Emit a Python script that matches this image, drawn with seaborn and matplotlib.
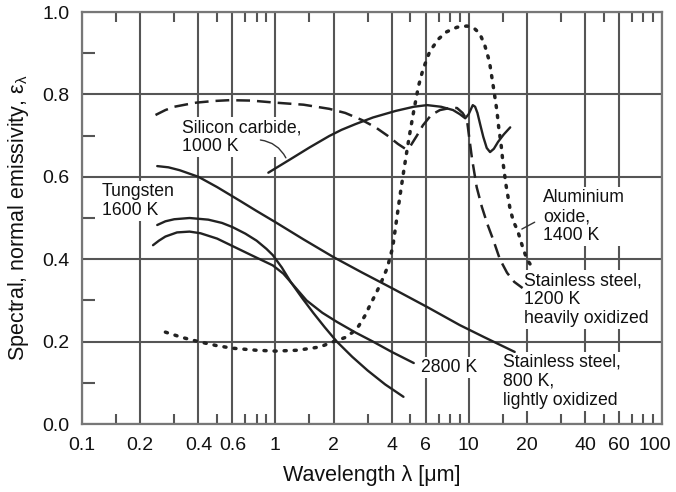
import matplotlib
matplotlib.use('Agg')
import matplotlib.pyplot as plt
import matplotlib.transforms as mtransforms
import seaborn as sns
import pandas as pd
from matplotlib.ticker import FixedLocator, FixedFormatter, NullFormatter

# data (wavelength in um, emissivity)
sic_x = [0.92, 1.2, 1.5, 1.9, 2.2, 2.6, 3.2, 4.2, 5.2, 6.1, 7.2, 8.3, 9.0, 9.6, 10.0, 10.5, 10.8, 11.1, 11.5,
         11.9, 12.4, 12.9, 13.5, 14.2, 15.2, 16.4]
sic_y = [0.61, 0.643, 0.671, 0.699, 0.714, 0.728, 0.744, 0.76, 0.77, 0.774, 0.77, 0.762, 0.752, 0.742, 0.752,
         0.774, 0.77, 0.755, 0.725, 0.697, 0.67, 0.66, 0.668, 0.685, 0.703, 0.72]

ss1200_x = [0.24, 0.27, 0.3, 0.35, 0.39, 0.48, 0.58, 0.75, 1.0, 1.4, 1.9, 2.3, 2.8, 3.3, 3.8, 4.3, 4.7, 5.0,
            5.4, 5.8, 6.4, 7.1, 8.0, 8.7, 9.3, 9.8, 10.1, 10.4, 11.0, 11.7, 12.5, 13.4, 14.5, 15.8, 17.2, 19.0]
ss1200_y = [0.75, 0.762, 0.77, 0.776, 0.78, 0.784, 0.786, 0.785, 0.78, 0.775, 0.765, 0.755, 0.738, 0.72, 0.70,
            0.68, 0.668, 0.675, 0.70, 0.725, 0.75, 0.762, 0.767, 0.767, 0.755, 0.738, 0.69, 0.645, 0.575, 0.527,
            0.485, 0.447, 0.40, 0.367, 0.345, 0.33]

alox_x = [0.27, 0.33, 0.4, 0.5, 0.6, 0.8, 1.0, 1.3, 1.7, 2.0, 2.3, 2.5, 2.7, 2.9, 3.1, 3.3, 3.5, 3.8, 4.05,
          4.25, 4.4, 4.6, 4.8, 5.0, 5.2, 5.5, 5.8, 6.3, 7.0, 7.7, 8.7, 9.8, 10.7, 11.4, 12.1, 12.8, 13.3,
          13.6, 14.0, 14.3, 14.7, 15.0, 15.6, 16.4, 17.1, 17.9, 19.0, 20.0, 21.0, 22.0]
alox_y = [0.223, 0.21, 0.20, 0.19, 0.184, 0.179, 0.177, 0.179, 0.187, 0.20, 0.21, 0.222, 0.238, 0.262, 0.29,
          0.315, 0.34, 0.38, 0.43, 0.50, 0.55, 0.61, 0.665, 0.715, 0.76, 0.82, 0.86, 0.905, 0.935, 0.952,
          0.963, 0.966, 0.96, 0.948, 0.92, 0.88, 0.83, 0.80, 0.76, 0.72, 0.68, 0.64, 0.58, 0.52, 0.49, 0.47,
          0.43, 0.40, 0.385, 0.38]

ss800_x = [0.245, 0.28, 0.32, 0.4, 0.5, 0.66, 0.8, 1.0, 1.4, 2.0, 2.8, 4.0, 6.1, 9.0, 12.0, 17.3]
ss800_y = [0.626, 0.623, 0.616, 0.60, 0.575, 0.541, 0.517, 0.49, 0.448, 0.405, 0.368, 0.33, 0.284, 0.24, 0.211, 0.175]

w1600_x = [0.245, 0.27, 0.3, 0.36, 0.45, 0.53, 0.6, 0.7, 0.8, 0.9, 0.97, 1.08, 1.2, 1.38, 1.57, 1.8, 2.08,
           2.5, 3.0, 3.7, 4.6]
w1600_y = [0.483, 0.492, 0.497, 0.50, 0.496, 0.488, 0.478, 0.462, 0.445, 0.425, 0.41, 0.38, 0.345, 0.305,
           0.27, 0.235, 0.20, 0.163, 0.13, 0.096, 0.066]

w2800_x = [0.233, 0.25, 0.27, 0.31, 0.36, 0.41, 0.5, 0.6, 0.75, 0.97, 1.1, 1.25, 1.45, 1.75, 2.08, 2.6, 3.2,
           4.0, 5.2]
w2800_y = [0.434, 0.445, 0.455, 0.465, 0.467, 0.463, 0.45, 0.432, 0.41, 0.385, 0.365, 0.335, 0.30, 0.27,
           0.248, 0.222, 0.20, 0.175, 0.148]

x_ticks = [0.1, 0.2, 0.4, 0.6, 1, 2, 4, 6, 10, 20, 40, 60, 100]
x_tick_labels = ['0.1', '0.2', '0.4', '0.6', '1', '2', '4', '6', '10', '20', '40', '60', '100']
x_minor = [0.15, 0.3, 0.5, 0.7, 0.8, 0.9, 1.5, 3, 5, 7, 8, 9, 15, 30, 50, 70, 80, 90]
y_ticks = [0.0, 0.2, 0.4, 0.6, 0.8, 1.0]
y_tick_labels = ['0.0', '0.2', '0.4', '0.6', '0.8', '1.0']
y_minor = [0.1, 0.3, 0.5, 0.7, 0.9]

sns.set_theme(style='white')
plt.rcParams['font.family'] = ['Liberation Sans', 'DejaVu Sans']
plt.rcParams['mathtext.fontset'] = 'custom'
plt.rcParams['mathtext.rm'] = 'Liberation Sans'
plt.rcParams['mathtext.it'] = 'Liberation Sans'

fig = plt.figure(figsize=(6.76, 4.92), dpi=100)
ax = fig.add_axes([0.1213, 0.1382, 0.858, 0.8374])

ink = '#222222'
series = [
    (sic_x, sic_y, '-'),
    (ss1200_x, ss1200_y, (0, (5.5, 2.8))),
    (ss800_x, ss800_y, '-'),
    (w1600_x, w1600_y, '-'),
    (w2800_x, w2800_y, '-'),
]
for xs, ys, ls in series:
    df = pd.DataFrame({'x': xs, 'y': ys})
    sns.lineplot(data=df, x='x', y='y', ax=ax, color=ink, linestyle=ls,
                 linewidth=1.8 if ls != '-' else 1.7, estimator=None, sort=False, zorder=4)

df = pd.DataFrame({'x': alox_x, 'y': alox_y})
sns.lineplot(data=df, x='x', y='y', ax=ax, color=ink, linestyle=(0, (0.6, 2.3)),
             linewidth=2.5, estimator=None, sort=False, zorder=4, dash_capstyle='round')

ax.set_xscale('log')
ax.set_xlim(0.1, 100)
ax.set_ylim(0, 1.0)

ax.xaxis.set_major_locator(FixedLocator(x_ticks))
ax.xaxis.set_major_formatter(FixedFormatter(x_tick_labels))
ax.xaxis.set_minor_locator(FixedLocator(x_minor))
ax.xaxis.set_minor_formatter(NullFormatter())
ax.yaxis.set_major_locator(FixedLocator(y_ticks))
ax.yaxis.set_major_formatter(FixedFormatter(y_tick_labels))
ax.yaxis.set_minor_locator(FixedLocator(y_minor))

ax.grid(True, which='major', color='#555555', linewidth=1.5)
ax.set_axisbelow(True)
ax.tick_params(which='major', length=0, labelsize=14, colors='#111111', pad=9)
ax.tick_params(axis='x', which='minor', direction='in', length=7.5, width=1.5, color='#555555',
               top=True, bottom=True)
ax.tick_params(axis='y', which='minor', direction='in', length=9, width=1.5, color='#555555',
               left=True, right=False)
for sp in ax.spines.values():
    sp.set_color('#777777')
    sp.set_linewidth(1.6)

ax.set_xlabel('Wavelength λ [μm]', fontsize=15.5, color='#111111', labelpad=8)
ax.set_ylabel(r'Spectral, normal emissivity, ε$_\lambda$', fontsize=15.5, color='#111111', labelpad=8)

# the "100" label sits a little left of the axis end in the reference
last = ax.get_xticklabels()[-1]
last.set_transform(last.get_transform() + mtransforms.ScaledTranslation(-5 / 72, 0, fig.dpi_scale_trans))

box = dict(facecolor='white', edgecolor='none', pad=1.5)
txt = dict(fontsize=12.7, color='#111111', bbox=box, zorder=3, linespacing=1.15)
ax.text(0.33, 0.74, 'Silicon carbide,\n1000 K', va='top', ha='left', **txt)
ax.text(0.127, 0.585, 'Tungsten\n1600 K', va='top', ha='left', **txt)
ax.text(24.3, 0.57, 'Aluminium\noxide,\n1400 K', va='top', ha='left', **txt)
ax.text(19.4, 0.368, 'Stainless steel,\n1200 K\nheavily oxidized', va='top', ha='left', **txt)
ax.text(5.67, 0.138, '2800 K', va='center', ha='left', **txt)
ax.text(15.1, 0.17, 'Stainless steel,\n800 K,\nlightly oxidized', va='top', ha='left', **txt)

ax.annotate('', xy=(1.15, 0.64), xytext=(0.81, 0.69),
            arrowprops=dict(arrowstyle='-', color='#333333', lw=1.0, connectionstyle='arc3,rad=-0.3'))
ax.annotate('', xy=(18.3, 0.47), xytext=(22.6, 0.493),
            arrowprops=dict(arrowstyle='-', color='#333333', lw=1.0))

fig.savefig('out.png', dpi=100)
